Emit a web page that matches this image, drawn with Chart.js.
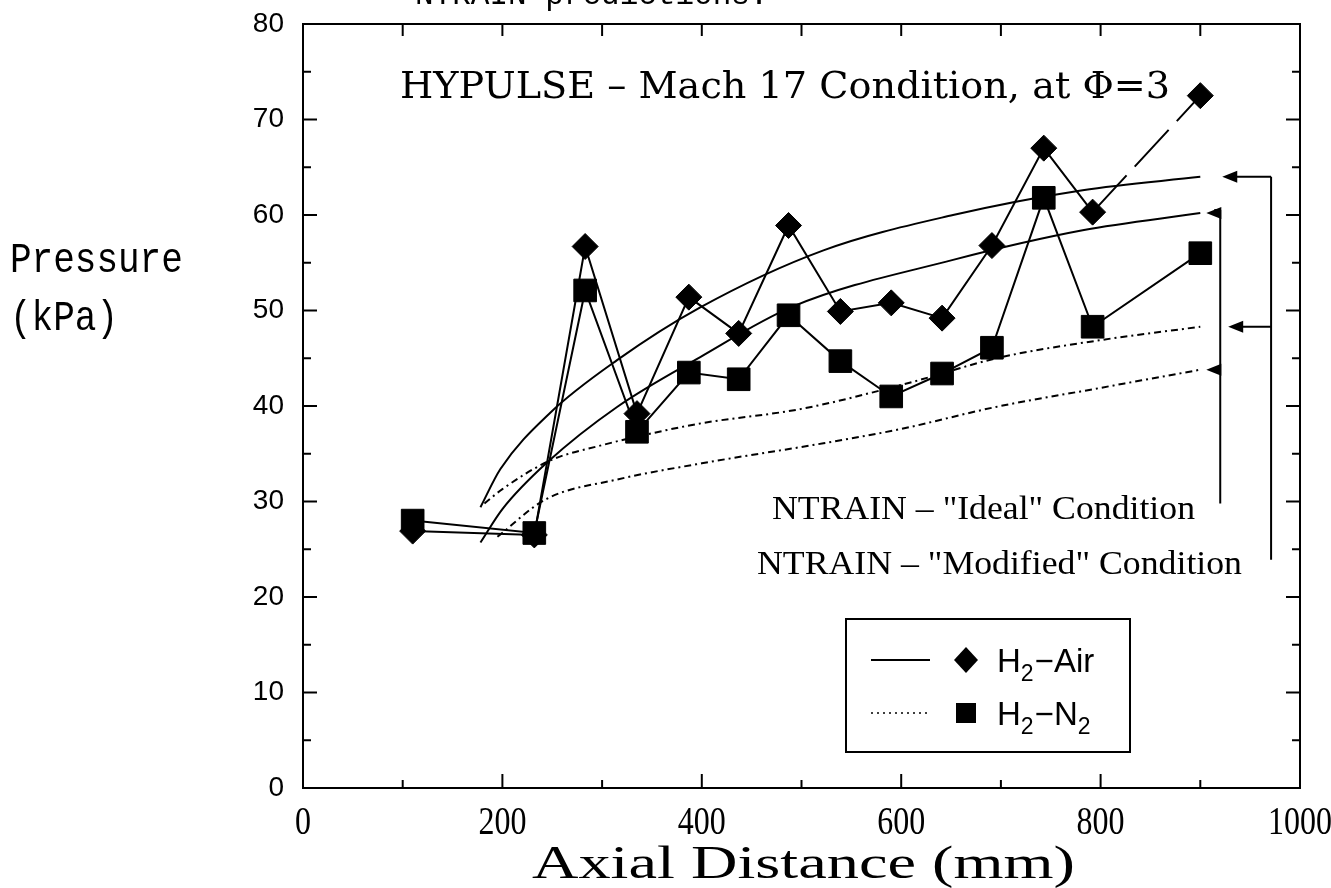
<!DOCTYPE html>
<html><head><meta charset="utf-8">
<script src="https://cdn.jsdelivr.net/npm/chart.js@4.4.0/dist/chart.umd.min.js"></script>
<style>html,body{margin:0;padding:0;background:#fff;} canvas{display:block;}</style>
</head><body>
<canvas id="c" width="1331" height="888"></canvas>
<script>
// ---- data ----
const xTickLabels = ['0', '200', '400', '600', '800', '1000'];
const yTickLabels = ['0', '10', '20', '30', '40', '50', '60', '70', '80'];

// measured wall pressures
const airX = [110, 232, 283, 335, 387, 437, 487, 539, 590, 641, 691, 743, 792, 900];
const airP = [26.9, 26.5, 56.7, 39.2, 51.4, 47.6, 58.9, 49.9, 50.8, 49.2, 56.8, 67.0, 60.3, 72.5];
const n2X  = [110, 232, 283, 335, 387, 437, 487, 539, 590, 641, 691, 743, 792, 900];
const n2P  = [28.0, 26.7, 52.1, 37.3, 43.5, 42.8, 49.5, 44.7, 41.0, 43.4, 46.1, 61.8, 48.3, 56.0];

// NTRAIN predictions
const modAirX   = [178, 198, 248, 315, 398, 522, 652, 782, 900];
const modAirP   = [29.4, 33.4, 39.3, 44.8, 50.3, 56.3, 60.0, 62.6, 64.0];
const idealAirX = [178, 200, 245, 315, 398, 491, 652, 782, 900];
const idealAirP = [25.7, 29.2, 34.1, 39.9, 45.1, 50.4, 55.3, 58.4, 60.2];
const modN2X    = [182, 200, 248, 300, 348, 400, 500, 600, 700, 800, 900];
const modN2P    = [29.8, 31.3, 34.3, 35.9, 37.1, 38.2, 39.7, 42.2, 45.1, 46.9, 48.3];
const idealN2X  = [195, 243, 315, 400, 522, 600, 695, 800, 900];
const idealN2P  = [26.3, 30.2, 32.3, 34.0, 36.1, 37.6, 39.9, 41.9, 43.8];

const title = 'HYPULSE \u2013 Mach 17 Condition, at \u03A6=3';
const topNote = 'NTRAIN predictions.';
const idealText = 'NTRAIN \u2013 "Ideal" Condition';
const modText = 'NTRAIN \u2013 "Modified" Condition';

const zip = (xs, ys) => xs.map((x, i) => ({x: x, y: ys[i]}));
const DOT = [7, 4, 2, 4];
const MONO = '"Liberation Mono", "Courier New", "Nimbus Mono PS", "FreeMono", monospace';

function line(ctx, x1, y1, x2, y2) { ctx.beginPath(); ctx.moveTo(x1, y1); ctx.lineTo(x2, y2); ctx.stroke(); }
function fitText(ctx, s, x0, yb, font, w) {
  ctx.font = font;
  const m = ctx.measureText(s).width;
  ctx.save(); ctx.translate(x0, yb); ctx.scale(w / m, 1);
  ctx.textAlign = 'left'; ctx.textBaseline = 'alphabetic';
  ctx.fillText(s, 0, 0); ctx.restore();
}
function arrowLeft(ctx, xFrom, xTip, yy) {
  line(ctx, xFrom, yy, xTip + 8, yy);
  ctx.beginPath(); ctx.moveTo(xTip, yy); ctx.lineTo(xTip + 15, yy - 6); ctx.lineTo(xTip + 15, yy + 6); ctx.closePath(); ctx.fill();
}

const decor = {
  id: 'decor',
  afterDraw(chart) {
    const ctx = chart.ctx, a = chart.chartArea, xs = chart.scales.x, ys = chart.scales.y;
    ctx.save();
    ctx.strokeStyle = '#000'; ctx.fillStyle = '#000'; ctx.lineWidth = 2; ctx.setLineDash([]);
    // frame
    ctx.strokeRect(a.left, a.top, a.right - a.left, a.bottom - a.top);
    // inward ticks
    for (let v = 0; v <= 80; v += 5) {
      const py = ys.getPixelForValue(v), L = v % 10 === 0 ? 14 : 8;
      line(ctx, a.left, py, a.left + L, py);
      line(ctx, a.right, py, a.right - L, py);
    }
    for (let v = 0; v <= 1000; v += 100) {
      const px = xs.getPixelForValue(v), L = v % 200 === 0 ? 14 : 8;
      line(ctx, px, a.bottom, px, a.bottom - L);
      line(ctx, px, a.top, px, a.top + 12);
    }
    // x tick labels (condensed serif), placed by the x scale
    xTickLabels.forEach((t, i) => {
      const px = xs.getPixelForValue(i * 200);
      ctx.save(); ctx.font = '41px "Liberation Serif"';
      ctx.translate(px, 834); ctx.scale(0.78, 1);
      ctx.textAlign = 'center'; ctx.textBaseline = 'alphabetic';
      ctx.fillText(t, 0, 0); ctx.restore();
    });
    // texts
    ctx.fillStyle = '#000';
    ctx.font = '31px ' + MONO; ctx.textBaseline = 'alphabetic'; ctx.textAlign = 'left';
    ctx.fillText(topNote, 415, 4);
    fitText(ctx, title, 400, 98, '37px "DejaVu Serif"', 770);
    ctx.save(); ctx.font = '36px ' + MONO; ctx.translate(10, 272); ctx.scale(1, 1.2); ctx.fillText('Pressure', 0, 0); ctx.restore();
    ctx.save(); ctx.font = '36px ' + MONO; ctx.translate(10, 330); ctx.scale(1, 1.2); ctx.fillText('(kPa)', 0, 0); ctx.restore();
    fitText(ctx, 'Axial Distance (mm)', 532, 878, '47px "Liberation Serif"', 543);
    fitText(ctx, idealText, 772, 519, '34px "Liberation Serif"', 423);
    fitText(ctx, modText, 757, 574, '34px "Liberation Serif"', 485);

    // brackets + arrows
    const yModAir = ys.getPixelForValue(modAirP[modAirP.length - 1]);
    const yModN2 = ys.getPixelForValue(modN2P[modN2P.length - 1]);
    const yIdAir = ys.getPixelForValue(idealAirP[idealAirP.length - 1]);
    const yIdN2 = ys.getPixelForValue(idealN2P[idealN2P.length - 1]);
    const xOuter = xs.getPixelForValue(971), xInner = xs.getPixelForValue(920);
    line(ctx, xOuter, yModAir, xOuter, ys.getPixelForValue(23.9));
    arrowLeft(ctx, xOuter, xs.getPixelForValue(922), yModAir);
    arrowLeft(ctx, xOuter, xs.getPixelForValue(928), yModN2);
    line(ctx, xInner, yIdAir - 3, xInner, ys.getPixelForValue(29.8));
    line(ctx, xInner, yIdAir - 3, xInner - 6, yIdAir - 3);
    arrowLeft(ctx, xInner, xs.getPixelForValue(906), yIdAir);
    arrowLeft(ctx, xInner, xs.getPixelForValue(906), yIdN2);

    // legend box
    ctx.lineWidth = 2;
    ctx.strokeRect(846, 619, 284, 133);
    line(ctx, 871, 660, 930, 660);
    ctx.save(); ctx.lineWidth = 1.5; ctx.setLineDash([2, 4]); line(ctx, 871, 713, 930, 713); ctx.restore();
    ctx.beginPath(); ctx.moveTo(966, 647); ctx.lineTo(978, 660); ctx.lineTo(966, 673); ctx.lineTo(954, 660); ctx.closePath(); ctx.fill();
    ctx.fillRect(956, 703, 20, 20);
    const drawSub = (parts, x0, yb) => {
      let x = x0;
      parts.forEach(p => {
        ctx.font = p.sub ? '23px "Liberation Sans"' : '33px "Liberation Sans"';
        ctx.fillText(p.t, x, yb + (p.sub ? 9 : 0));
        x += ctx.measureText(p.t).width + (p.sub ? 1 : 0);
      });
    };
    drawSub([{t: 'H'}, {t: '2', sub: true}, {t: '\u2212Air'}], 997, 672);
    drawSub([{t: 'H'}, {t: '2', sub: true}, {t: '\u2212N'}, {t: '2', sub: true}], 997, 725);
    ctx.restore();
  }
};

const curve = (data, dash) => ({
  data: data, borderColor: '#000', borderWidth: 2, pointRadius: 0, fill: false,
  cubicInterpolationMode: 'monotone', borderDash: dash || []
});

new Chart(document.getElementById('c'), {
  type: 'line',
  data: {
    datasets: [
      curve(zip(modAirX, modAirP)),
      curve(zip(idealAirX, idealAirP)),
      curve(zip(modN2X, modN2P), DOT),
      curve(zip(idealN2X, idealN2P), DOT),
      {
        label: 'H2-Air', data: zip(airX, airP), borderColor: '#000', backgroundColor: '#000',
        borderWidth: 2, pointStyle: 'rectRot', pointRadius: 13, pointBorderWidth: 1, tension: 0,
        segment: { borderDash: c => c.p1DataIndex === airX.length - 1 ? [50, 12] : undefined }
      },
      {
        label: 'H2-N2', data: zip(n2X, n2P), borderColor: '#000', backgroundColor: '#000',
        borderWidth: 2, pointStyle: 'rect', pointRadius: 16, pointBorderWidth: 1, tension: 0
      }
    ]
  },
  options: {
    responsive: false, animation: false, devicePixelRatio: 1,
    layout: { padding: { top: 24, right: 31, left: 0, bottom: 0 } },
    plugins: { legend: { display: false }, tooltip: { enabled: false } },
    scales: {
      x: {
        type: 'linear', min: 0, max: 1000,
        grid: { display: false, drawTicks: false }, border: { display: false },
        ticks: { display: false, stepSize: 200, callback: (v, i) => xTickLabels[i] },
        afterFit: s => { s.height = 100; s.paddingLeft = 0; s.paddingRight = 0; }
      },
      y: {
        type: 'linear', min: 0, max: 80,
        grid: { display: false, drawTicks: false }, border: { display: false },
        ticks: { stepSize: 10, padding: 19, color: '#000', font: { family: 'Liberation Sans', size: 28 },
                 callback: (v, i) => yTickLabels[i] },
        afterFit: s => { s.width = 303; s.paddingTop = 0; s.paddingBottom = 0; }
      }
    }
  },
  plugins: [decor]
});
</script>
</body></html>
